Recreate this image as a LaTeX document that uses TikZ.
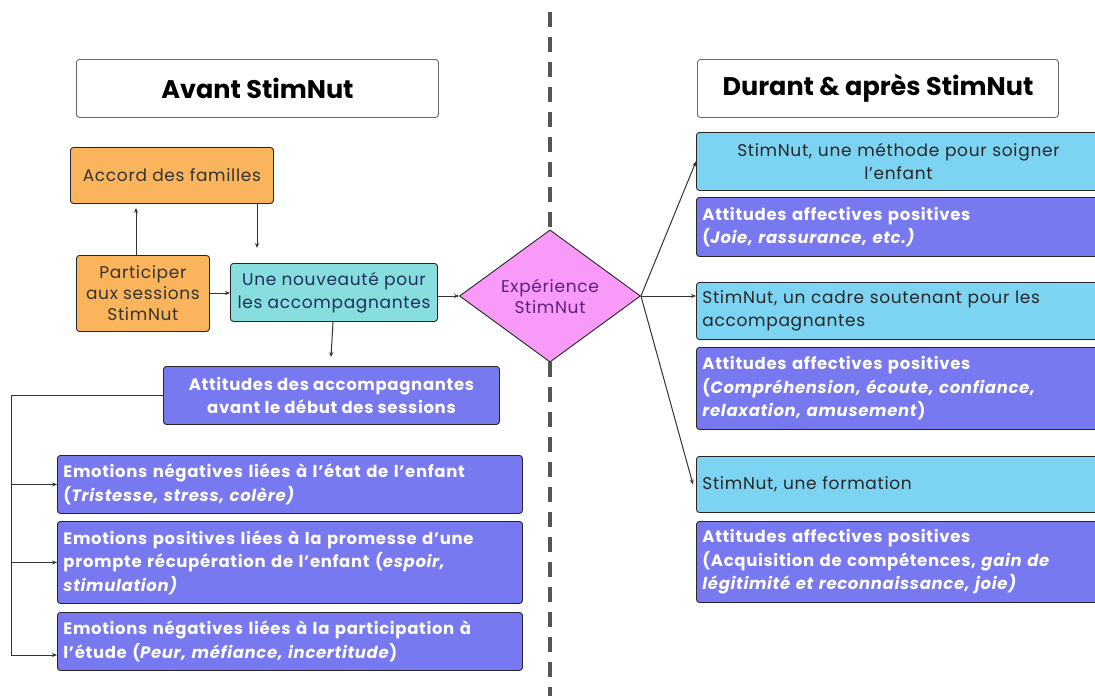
\documentclass[tikz,border=0pt]{standalone}
\usepackage{fontspec}
\setmainfont{Poppins}[LetterSpace=4]
\newfontfamily\hdrfont{Poppins}
\usetikzlibrary{shapes.geometric,arrows.meta}
\definecolor{orangebox}{HTML}{F9B45C}
\definecolor{tealbox}{HTML}{88DEDC}
\definecolor{pinkbox}{HTML}{FA9AF8}
\definecolor{purplebox}{HTML}{7878F0}
\definecolor{bluebox}{HTML}{7DD4F2}
\definecolor{dashgrey}{HTML}{555555}
\definecolor{navytext}{HTML}{1F2F5F}
\definecolor{diatext}{HTML}{5A2080}
\begin{document}
\begin{tikzpicture}[x=1pt,y=-1pt,
  box/.style={draw=black!85, line width=0.9pt, rounded corners=3pt, inner sep=0pt,
    anchor=north west, font=\fontsize{17}{23}\selectfont},
  header/.style={box, fill=white, draw=black!60, align=center,
    font=\hdrfont\fontsize{25.5}{28}\selectfont\bfseries},
  orangestyle/.style={box, fill=orangebox, text=black!80, align=center},
  tealstyle/.style={box, fill=tealbox, text=navytext, align=center},
  purplestyle/.style={box, fill=purplebox, text=white, font=\fontsize{16.5}{23.5}\selectfont\bfseries},
  bluestyle/.style={box, fill=bluebox, text=black!85},
  conn/.style={draw=black!80, line width=1pt},
  arr/.style={conn, -{Stealth[length=5pt,width=4pt]}}
]
\useasboundingbox (0,0) rectangle (1095,696);
\clip (0,0) rectangle (1095,696);

% dashed divider
\coordinate (dtop) at (550,12);
\coordinate (dbot) at (550,696);
\draw[dashgrey, line width=3.5pt, dash pattern=on 15pt off 10pt] (dtop) -- (dbot);

% headers
\node[header, minimum width=362pt, minimum height=58pt] (hA) at (76,59) {Avant StimNut};
\node[header, minimum width=361pt, minimum height=58pt] (hD) at (697,59) {Durant \& après StimNut};

% left side
\node[orangestyle, minimum width=203pt, minimum height=56pt] (acc) at (70,147) {Accord des familles};
\node[orangestyle, minimum width=133pt, minimum height=76pt, font=\fontsize{17}{21}\selectfont] (par) at (76,255) {Participer\\aux sessions\\StimNut};
\node[tealstyle, minimum width=207pt, minimum height=58pt] (nou) at (230,263) {Une nouveauté pour\\les accompagnantes};
\node[diamond, draw=black!85, line width=0.9pt, fill=pinkbox, text=diatext, inner sep=0pt,
  minimum width=181pt, minimum height=132pt, align=center,
  font=\fontsize{17}{21}\selectfont] (dia) at (550,296) {Expérience\\StimNut};

\node[purplestyle, minimum width=336pt, minimum height=58pt, align=center] (att) at (163,366)
  {Attitudes des accompagnantes\\avant le début des sessions};
\node[purplestyle, minimum width=465pt, minimum height=58pt, text width=453pt, align=left] (e1) at (57,455)
  {Emotions négatives liées à l’état de l’enfant\\(\textit{Tristesse, stress, colère)}};
\node[purplestyle, minimum width=465pt, minimum height=82pt, text width=453pt, align=left] (e2) at (57,521)
  {Emotions positives liées à la promesse d’une\\prompte récupération de l’enfant (\textit{espoir,}\\\textit{stimulation)}};
\node[purplestyle, minimum width=465pt, minimum height=58pt, text width=453pt, align=left] (e3) at (57,612)
  {Emotions négatives liées à la participation à\\l’étude (\textit{Peur, méfiance, incertitude})};

% right side
\node[bluestyle, minimum width=404pt, minimum height=58pt, text width=392pt, align=center] (r1) at (696,132)
  {StimNut, une méthode pour soigner\\l’enfant};
\node[purplestyle, minimum width=404pt, minimum height=59pt, text width=392pt, align=left] (r2) at (696,197)
  {Attitudes affectives positives\\(\textit{Joie, rassurance, etc.)}};
\node[bluestyle, minimum width=404pt, minimum height=57pt, text width=392pt, align=left] (r3) at (696,282)
  {StimNut, un cadre soutenant pour les\\accompagnantes};
\node[purplestyle, minimum width=404pt, minimum height=82pt, text width=392pt, align=left] (r4) at (696,347)
  {Attitudes affectives positives\\(\textit{Compréhension, écoute, confiance,}\\\textit{relaxation, amusement})};
\node[bluestyle, minimum width=404pt, minimum height=56pt, text width=392pt, align=left] (r5) at (696,456)
  {StimNut, une formation};
\node[purplestyle, minimum width=404pt, minimum height=81pt, text width=392pt, align=left] (r6) at (696,521)
  {Attitudes affectives positives\\(Acquisition de compétences, \textit{gain de}\\\textit{légitimité et reconnaissance, joie)}};

% connectors left
\draw[arr] (par.north -| 136,0) -- ([yshift=-4pt]acc.south -| 136,0);
\draw[arr] (acc.south -| 257,0) -- ([yshift=15pt]nou.north -| 257,0);
\draw[arr] (par.east |- 0,293) -- (nou.west |- 0,293);
\draw[arr] (nou.east |- dia.west) -- (dia.west);
\draw[arr] (nou.south -| 333,0) -- ([yshift=9pt]att.north -| 331,0);

\coordinate (bk) at (11,395);
\coordinate (e3in) at (57,655);
\draw[conn] (att.west) -- (bk |- att.west) -- (bk |- e3in);
\draw[arr] (bk |- e3in) -- (e3in);
\draw[arr] (bk |- e1.west) -- (e1.west);
\draw[arr] (bk |- e2.west) -- (e2.west);

% connectors right
\draw[arr] (dia.east) -- (r1.west);
\draw[arr] (dia.east) -- (dia.east -| r3.west);
\draw[arr] (dia.east) -- ([xshift=-3pt]r5.west);
\end{tikzpicture}
\end{document}
